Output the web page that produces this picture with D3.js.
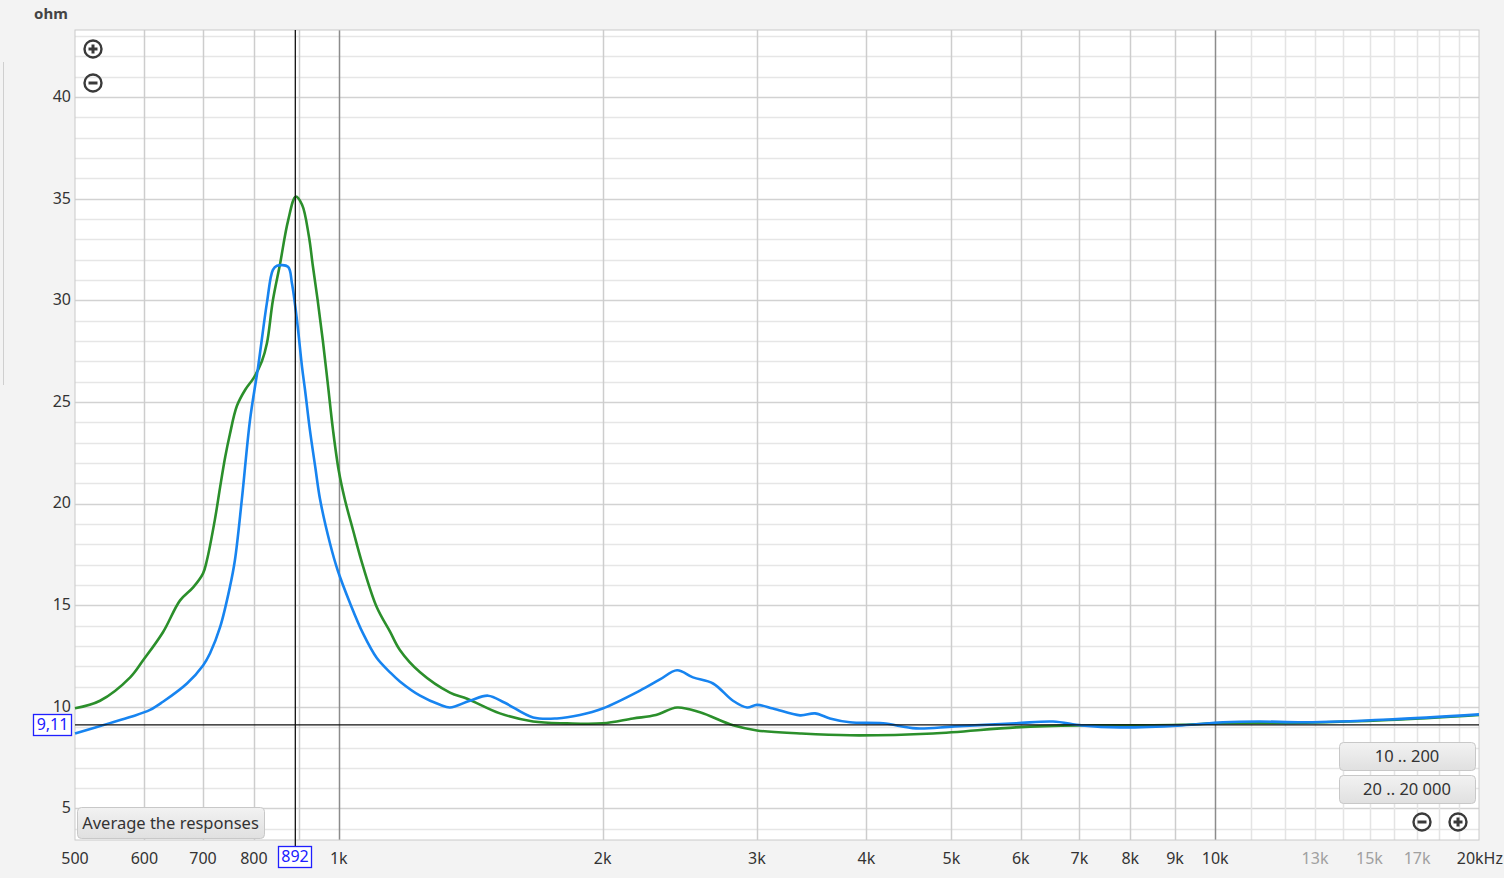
<!DOCTYPE html>
<html>
<head>
<meta charset="utf-8">
<script src="https://cdn.jsdelivr.net/npm/d3@7"></script>
<style>
  body { margin: 0; background: #f3f3f3; font-family: "Noto Sans", "Open Sans", sans-serif; }
  svg { display: block; }
</style>
</head>
<body>
<svg width="1504" height="878"></svg>
<script>
// impedance curves, frequency in Hz, impedance in ohm
var blueFreq = [500, 548, 578, 609, 630, 671, 700, 713, 732, 751, 761, 775, 792, 809, 828, 841, 850, 875, 884, 896, 908, 915, 927, 940, 952, 977, 997, 1030, 1066, 1105, 1144, 1174, 1238, 1305, 1339, 1411, 1480, 1547, 1666, 1774, 1884, 2000, 2206, 2325, 2432, 2536, 2673, 2817, 2923, 3000, 3129, 3360, 3494, 3634, 3830, 4178, 4557, 5040, 5926, 6530, 7040, 7786, 9165, 10205, 11219, 12690, 15785, 20000];
var blueOhm  = [8.69, 9.2, 9.5, 9.85, 10.25, 11.15, 12.04, 12.64, 13.92, 15.88, 17.2, 20.18, 24.13, 26.74, 29.9, 31.5, 31.7, 31.65, 30.85, 29.0, 26.7, 25.6, 23.6, 21.8, 20.2, 18.05, 16.72, 15.1, 13.6, 12.4, 11.7, 11.25, 10.55, 10.1, 9.97, 10.3, 10.55, 10.2, 9.48, 9.43, 9.6, 9.92, 10.8, 11.35, 11.8, 11.45, 11.15, 10.3, 9.97, 10.1, 9.92, 9.58, 9.68, 9.43, 9.24, 9.19, 8.94, 9.04, 9.19, 9.28, 9.09, 8.99, 9.09, 9.24, 9.28, 9.24, 9.38, 9.63];

var greenFreq = [500, 534, 578, 598, 630, 659, 682, 700, 707, 722, 732, 742, 751, 765, 782, 800, 817, 828, 841, 857, 875, 893, 908, 924, 934, 946, 959, 972, 985, 1000, 1016, 1038, 1066, 1105, 1144, 1174, 1238, 1339, 1401, 1527, 1666, 1821, 2000, 2166, 2300, 2432, 2583, 2817, 3000, 3360, 3830, 4764, 5926, 6974, 7786, 9165, 10205, 12690, 15785, 20000];
var greenOhm  = [9.93, 10.3, 11.45, 12.29, 13.67, 15.24, 15.88, 16.57, 17.2, 19.2, 20.8, 22.3, 23.4, 24.8, 25.6, 26.2, 27.0, 27.9, 30.0, 31.8, 33.9, 35.1, 34.7, 33.2, 31.7, 30.0, 28.0, 25.8, 23.6, 21.6, 20.2, 18.7, 16.9, 14.9, 13.7, 12.8, 11.7, 10.7, 10.4, 9.68, 9.28, 9.19, 9.19, 9.43, 9.6, 9.97, 9.73, 9.09, 8.84, 8.69, 8.6, 8.69, 8.99, 9.09, 9.09, 9.12, 9.2, 9.22, 9.35, 9.6];

var yTicks = [5, 10, 15, 20, 25, 30, 35, 40];
var xMajor = [600, 700, 800, 900, 2000, 3000, 4000, 5000, 6000, 7000, 8000, 9000];
var xDecade = [1000, 10000];
var xFine = [11000, 12000, 13000, 14000, 15000, 16000, 17000, 18000, 19000];
var xLabels = [[500, "500"], [600, "600"], [700, "700"], [800, "800"], [1000, "1k"], [2000, "2k"], [3000, "3k"], [4000, "4k"], [5000, "5k"], [6000, "6k"], [7000, "7k"], [8000, "8k"], [9000, "9k"], [10000, "10k"]];
var xLabelsLight = [[13000, "13k"], [15000, "15k"], [17000, "17k"]];
var cursorFreq = 892, cursorOhm = 9.11;

var margin = {top: 30, left: 75, right: 25, bottom: 38},
    width = 1479 - margin.left,
    height = 840 - margin.top;

var svg = d3.select("svg"),
    g = svg.append("g").attr("transform", "translate(" + margin.left + "," + margin.top + ")");

var x = d3.scaleLog().domain([500, 20000]).range([0, width]);
var y = d3.scaleLinear().domain([3.45, 43.3]).range([height, 0]);

// left panel edge
svg.append("line").attr("x1", 3.5).attr("x2", 3.5).attr("y1", 62).attr("y2", 385)
    .attr("stroke", "#cfcfcf");

g.append("rect").attr("width", width).attr("height", height).attr("fill", "#fff");

// horizontal grid every ohm
var hs = d3.range(4, 44);
g.selectAll(".hgrid").data(hs).enter().append("line")
    .attr("x1", 0).attr("x2", width)
    .attr("y1", function(d) { return Math.round(y(d)) + 0.5; })
    .attr("y2", function(d) { return Math.round(y(d)) + 0.5; })
    .attr("stroke", function(d) { return d % 5 == 0 ? "#d2d2d2" : "#e6e6e6"; })
    .attr("stroke-width", 1.5);

function vgrid(data, color) {
  g.append("g").selectAll("line").data(data).enter().append("line")
      .attr("x1", function(d) { return Math.round(x(d)) + 0.5; })
      .attr("x2", function(d) { return Math.round(x(d)) + 0.5; })
      .attr("y1", 0).attr("y2", height)
      .attr("stroke", color).attr("stroke-width", 1.5);
}
vgrid(xFine, "#e4e4e4");
vgrid(xMajor, "#cdcdcd");
vgrid(xDecade, "#8c8c8c");

g.append("rect").attr("width", width).attr("height", height)
    .attr("fill", "none").attr("stroke", "#cacaca");

// curves
var line = d3.line().curve(d3.curveCatmullRom.alpha(0.5))
    .x(function(d) { return x(d[0]); })
    .y(function(d) { return y(d[1]); });

g.append("path").datum(d3.zip(greenFreq, greenOhm))
    .attr("d", line).attr("fill", "none")
    .attr("stroke", "#2b8f2b").attr("stroke-width", 2.6);
g.append("path").datum(d3.zip(blueFreq, blueOhm))
    .attr("d", line).attr("fill", "none")
    .attr("stroke", "#1784f0").attr("stroke-width", 2.6);

// cursor
g.append("line").attr("x1", 0).attr("x2", width)
    .attr("y1", y(cursorOhm)).attr("y2", y(cursorOhm))
    .attr("stroke", "#111").attr("stroke-width", 1.3);
g.append("line").attr("x1", x(cursorFreq)).attr("x2", x(cursorFreq))
    .attr("y1", 0).attr("y2", height + 8)
    .attr("stroke", "#111").attr("stroke-width", 1.3);

// y labels
svg.append("text").attr("x", 34).attr("y", 19).text("ohm")
    .attr("font-size", 15).attr("font-weight", "bold").attr("fill", "#444");
g.selectAll(".ylab").data(yTicks).enter().append("text")
    .attr("x", -4).attr("y", function(d) { return y(d); })
    .attr("dy", "0.3em").attr("text-anchor", "end")
    .attr("font-size", 16).attr("fill", "#333")
    .text(function(d) { return d; });

// x labels
g.selectAll(".xlab").data(xLabels).enter().append("text")
    .attr("x", function(d) { return x(d[0]); }).attr("y", height + 24)
    .attr("text-anchor", "middle").attr("font-size", 16).attr("fill", "#333")
    .text(function(d) { return d[1]; });
g.selectAll(".xlab2").data(xLabelsLight).enter().append("text")
    .attr("x", function(d) { return x(d[0]); }).attr("y", height + 24)
    .attr("text-anchor", "middle").attr("font-size", 16).attr("fill", "#a0a0a0")
    .text(function(d) { return d[1]; });
g.append("text").attr("x", width + 24).attr("y", height + 24)
    .attr("text-anchor", "end").attr("font-size", 16).attr("fill", "#333")
    .text("20kHz");

// cursor readouts
function readout(cx, cy, w, txt) {
  var b = svg.append("g").attr("transform", "translate(" + cx + "," + cy + ")");
  b.append("rect").attr("x", 0.5).attr("y", 0.5).attr("width", w).attr("height", 21)
      .attr("fill", "#fff").attr("stroke", "#1f1fff").attr("stroke-width", 1.3);
  b.append("text").attr("x", w / 2 + 0.5).attr("y", 16).attr("text-anchor", "middle")
      .attr("font-size", 16).attr("fill", "#2020ff").text(txt);
}
readout(33, Math.round(margin.top + y(cursorOhm)) - 11, 38, "9,11");
readout(Math.round(margin.left + x(cursorFreq)) - 17, 846, 33, "892");

// zoom icons
function zoomIcon(cx, cy, plus) {
  var ic = svg.append("g").attr("transform", "translate(" + cx + "," + cy + ")")
      .attr("stroke", "#3a3a3a").attr("fill", "none");
  ic.append("circle").attr("r", 8.5).attr("stroke-width", 2.4);
  ic.append("line").attr("x1", -4.5).attr("x2", 4.5).attr("stroke-width", 3);
  if (plus) ic.append("line").attr("y1", -4.5).attr("y2", 4.5).attr("stroke-width", 3);
}
zoomIcon(93, 49, true);
zoomIcon(93, 83, false);
zoomIcon(1422, 822, false);
zoomIcon(1458, 822, true);

// buttons
var grad = svg.append("defs").append("linearGradient").attr("id", "btn")
    .attr("x1", 0).attr("x2", 0).attr("y1", 0).attr("y2", 1);
grad.append("stop").attr("offset", 0).attr("stop-color", "#f2f2f2");
grad.append("stop").attr("offset", 1).attr("stop-color", "#e0e0e0");

function button(bx, by, w, h, txt) {
  var b = svg.append("g").attr("transform", "translate(" + bx + "," + by + ")");
  b.append("rect").attr("x", 0.5).attr("y", 0.5).attr("width", w).attr("height", h)
      .attr("rx", 4).attr("fill", "url(#btn)").attr("stroke", "#c8c8c8");
  b.append("text").attr("x", w / 2).attr("y", h / 2 + 6).attr("text-anchor", "middle")
      .attr("font-size", 16.5).attr("fill", "#333").text(txt);
}
button(1339, 742, 136, 28, "10 .. 200");
button(1339, 775, 136, 28, "20 .. 20 000");
button(77, 807, 187, 31, "Average the responses");
</script>
</body>
</html>
